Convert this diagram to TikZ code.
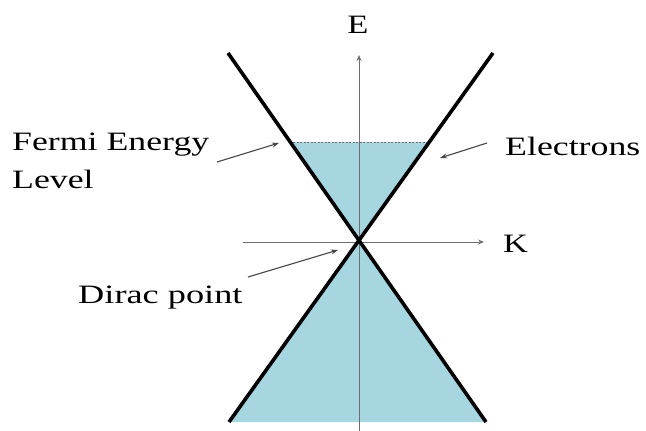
\documentclass[tikz,border=0pt]{standalone}
\usepackage{fontspec}
\setmainfont{Liberation Serif}
\usetikzlibrary{arrows.meta}
\definecolor{bandfill}{RGB}{166,214,224}
\definecolor{axisgray}{RGB}{110,110,110}
\definecolor{arrgray}{RGB}{70,70,70}
\begin{document}
\begin{tikzpicture}[x=1pt,y=-1pt,
  band/.style={line width=3.6pt,black},
  axisline/.style={line width=1pt,axisgray,-{Stealth[length=6pt,width=5pt]}},
  pointer/.style={line width=1.1pt,arrgray,-{Stealth[length=7pt,width=5pt]}},
  lbl/.style={inner sep=0pt,font=\fontsize{26.5}{32}\selectfont}]
\useasboundingbox (0,0) rectangle (646,431);
% coordinates
\coordinate (D) at (359,242);
\coordinate (LT) at (228,53);
\coordinate (RT) at (493,53);
\coordinate (LB) at (229,422);
\coordinate (RB) at (486,422);
\coordinate (FL) at (289.7,142);
\coordinate (FR) at (429.9,142);
\coordinate (Ebot) at (359,431);
\coordinate (Etop) at (359,55);
\coordinate (Kl) at (243,242);
\coordinate (Kr) at (484,242);
% fills
\fill[bandfill] (D) -- (FL) -- (FR) -- cycle;
\fill[bandfill] (D) -- (LB) -- (RB) -- cycle;
% axes
\draw[axisline] (Ebot) -- (Etop);
\draw[axisline] (Kl) -- (Kr);
% fermi level
\draw[axisgray,line width=0.8pt,dash pattern=on 2pt off 1.5pt] (FL) -- (FR);
% bands
\draw[band] (LT) -- (RB);
\draw[band] (RT) -- (LB);
% labels
\node[lbl,anchor=base] (E) at (358,33) {\scalebox{1.3}[1]{E}};
\node[lbl,anchor=base west] (K) at (503,252) {\scalebox{1.3}[1]{K}};
\node[lbl,anchor=base west] (F1) at (12,150) {\scalebox{1.35}[1]{Fermi Energy}};
\node[lbl,anchor=base west] (F2) at (12,188) {\scalebox{1.35}[1]{Level}};
\node[lbl,anchor=base west] (El) at (505,155) {\scalebox{1.35}[1]{Electrons}};
\node[lbl,anchor=base west] (Dp) at (78,303) {\scalebox{1.37}[1]{Dirac point}};
% pointers
\coordinate (fa) at (217,162);
\coordinate (fb) at (279,143);
\coordinate (ea) at (487,143);
\coordinate (eb) at (440,158);
\coordinate (da) at (248,277);
\coordinate (db) at (338,250);
\draw[pointer] (fa) -- (fb);
\draw[pointer] (ea) -- (eb);
\draw[pointer] (da) -- (db);
\end{tikzpicture}
\end{document}
